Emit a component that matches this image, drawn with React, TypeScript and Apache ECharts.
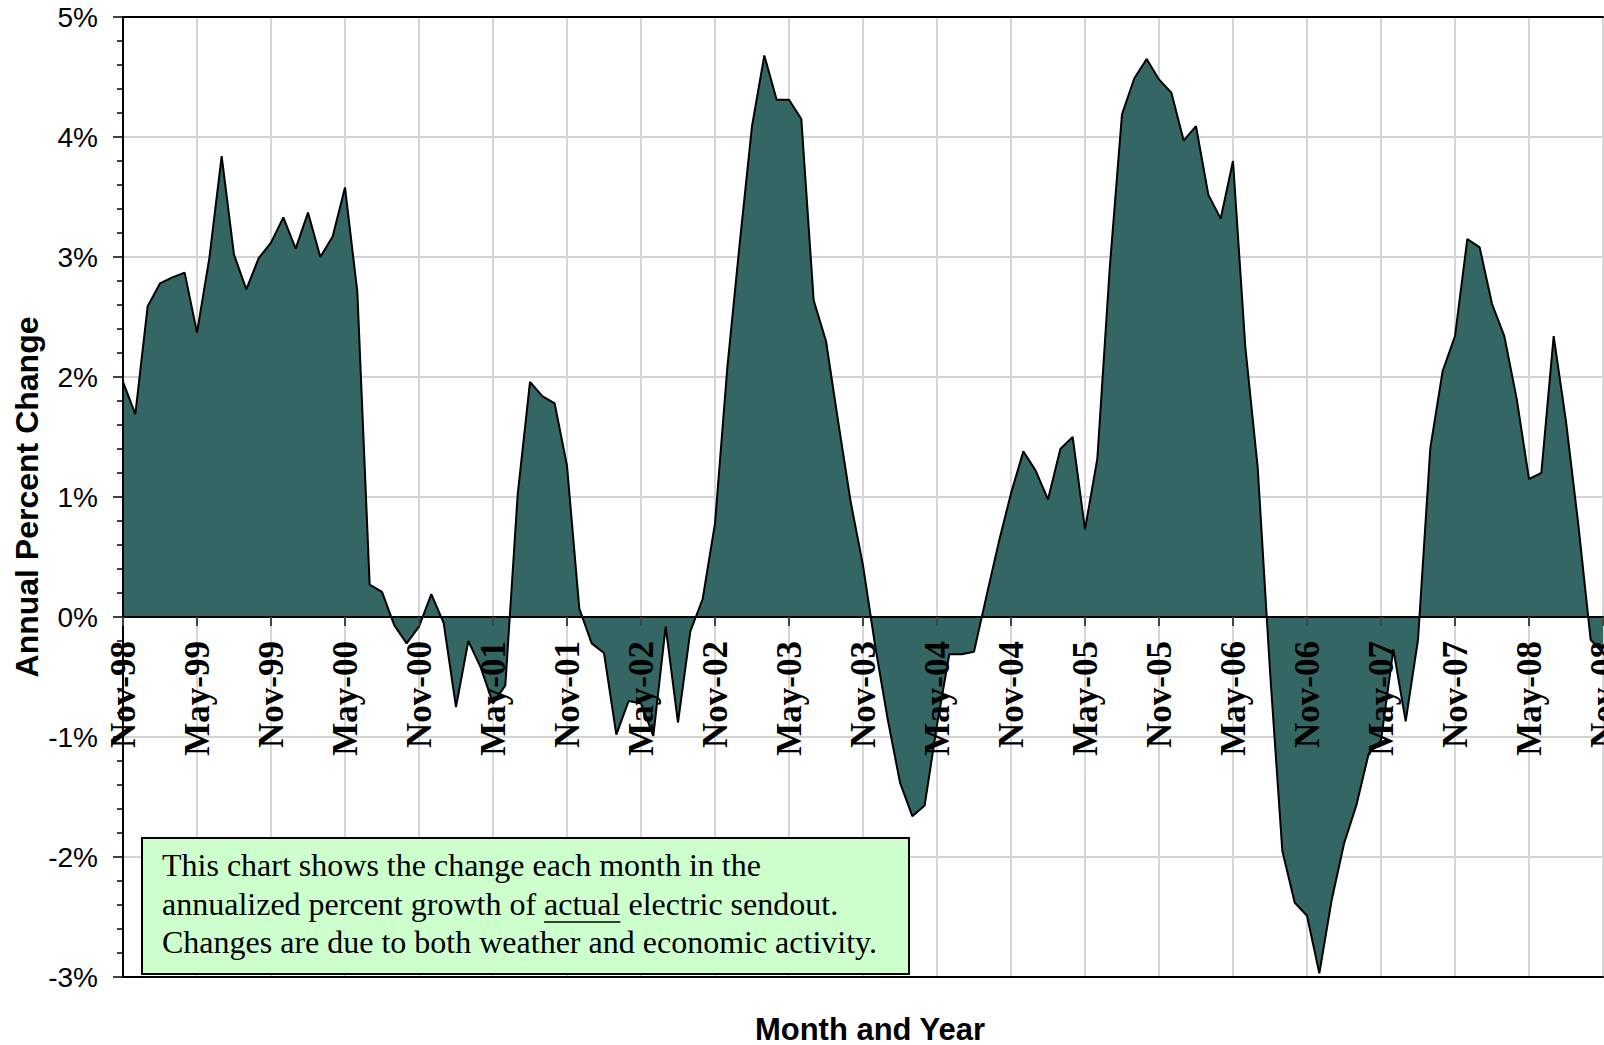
import React, { useEffect, useRef } from 'react';
import * as echarts from 'echarts';

// Month name list used for the category labels (Nov-98 ... Nov-08)
const MONTH_NAMES = ['Jan', 'Feb', 'Mar', 'Apr', 'May', 'Jun', 'Jul', 'Aug', 'Sep', 'Oct', 'Nov', 'Dec'];
const START_YEAR = 1998;
const START_MONTH_INDEX = 10; // Nov

// Annual percent change of actual electric sendout, monthly, Nov-98 .. Nov-08
const GROWTH = [
  1.96, 1.69, 2.59, 2.78, 2.83, 2.87, 2.37, 2.99, 3.84, 3.02, 2.73, 2.99,
  3.12, 3.33, 3.07, 3.37, 3.0, 3.17, 3.58, 2.71, 0.27, 0.21, -0.07, -0.22,
  -0.08, 0.19, -0.05, -0.75, -0.2, -0.42, -0.72, -0.57, 1.02, 1.96, 1.84, 1.78,
  1.26, 0.07, -0.22, -0.3, -0.98, -0.7, -0.72, -0.99, -0.08, -0.88, -0.12, 0.15,
  0.78, 2.08, 3.11, 4.09, 4.68, 4.31, 4.31, 4.15, 2.64, 2.3, 1.62, 0.96,
  0.43, -0.25, -0.85, -1.38, -1.66, -1.57, -0.9, -0.31, -0.31, -0.29, 0.17, 0.62,
  1.03, 1.38, 1.22, 0.98, 1.4, 1.5, 0.73, 1.32, 2.9, 4.19, 4.49, 4.65,
  4.48, 4.37, 3.97, 4.09, 3.52, 3.32, 3.8, 2.25, 1.25, -0.45, -1.95, -2.38,
  -2.49, -2.97, -2.36, -1.89, -1.57, -1.14, -1.03, -0.27, -0.87, -0.19, 1.41, 2.05,
  2.34, 3.15, 3.08, 2.61, 2.34, 1.82, 1.15, 1.2, 2.34, 1.63, 0.77, -0.19,
  -0.3,
];

const CATEGORIES = GROWTH.map((_, i) => {
  const t = START_MONTH_INDEX + i;
  const m = t % 12;
  const y = (START_YEAR + Math.floor(t / 12)) % 100;
  return `${MONTH_NAMES[m]}-${String(y).padStart(2, '0')}`;
});

const Y_MIN = -3;
const Y_MAX = 5;
const Y_STEP = 1;
const LABEL_EVERY = 6; // months between labelled ticks

const NOTE_LINE_1 = 'This chart shows the change each month in the';
const NOTE_LINE_2_PRE = 'annualized percent growth of ';
const NOTE_LINE_2_UNDERLINED = 'actual';
const NOTE_LINE_2_POST = ' electric sendout.';
const NOTE_LINE_3 = 'Changes are due to both weather and economic activity.';

const Y_TITLE = 'Annual Percent Change';
const X_TITLE = 'Month and Year';

const SANS = "'Liberation Sans', Arial, sans-serif";
const SERIF = "'Liberation Serif', 'Times New Roman', serif";

const GRID_TOP = 17;
const GRID_HEIGHT = 960;

function measure(text: string, font: string): number {
  const c = document.createElement('canvas');
  const ctx = c.getContext('2d');
  if (!ctx) return text.length * 14;
  ctx.font = font;
  return ctx.measureText(text).width;
}

export default function App() {
  const ref = useRef<HTMLDivElement>(null);

  useEffect(() => {
    if (!ref.current) return;
    const chart = echarts.init(ref.current, undefined, { renderer: 'svg' });

    const noteFont = `32px ${SERIF}`;
    const noteX = 162;
    const preW = measure(NOTE_LINE_2_PRE, noteFont);
    const ulW = measure(NOTE_LINE_2_UNDERLINED, noteFont);

    const noteText = (text: string, y: number) => ({
      type: 'text',
      left: noteX,
      top: y,
      style: {
        text,
        font: noteFont,
        fill: '#000',
      },
    });

    const mainXAxis = (offset: number) => ({
      type: 'category',
      data: CATEGORIES,
      boundaryGap: false,
      position: 'bottom',
      offset,
      z: 10,
      axisLine: { show: true, onZero: false, lineStyle: { color: '#000', width: 2 } },
      axisTick: { show: true, interval: LABEL_EVERY - 1, length: 9, lineStyle: { color: '#444', width: 2 } },
      axisLabel: {
        show: true,
        interval: LABEL_EVERY - 1,
        rotate: 90,
        margin: 24,
        fontFamily: SERIF,
        fontWeight: 'bold',
        fontSize: 35,
        color: '#000',
      },
      splitLine: { show: false },
      name: X_TITLE,
      nameLocation: 'middle',
      nameGap: 397,
      nameMoveOverlap: false,
      nameTextStyle: {
        fontFamily: SANS,
        fontWeight: 'bold',
        fontSize: 31,
        color: '#000',
        padding: [0, 0, 0, 14],
      },
    });

    const option: any = {
      animation: false,
      backgroundColor: '#fff',
      grid: {
        left: 123,
        top: GRID_TOP,
        width: 1480,
        height: GRID_HEIGHT,
        show: false,
        containLabel: false,
        outerBoundsMode: 'none',
      },
      xAxis: [
        mainXAxis(0),
        {
          type: 'category',
          data: CATEGORIES,
          boundaryGap: false,
          position: 'top',
          z: 0,
          axisLine: { show: true, onZero: false, lineStyle: { color: '#000', width: 2 } },
          axisTick: { show: false },
          axisLabel: { show: false },
          splitLine: { show: true, interval: LABEL_EVERY - 1, lineStyle: { color: '#d6d6d6', width: 2 } },
        },
        {
          type: 'category',
          data: CATEGORIES,
          boundaryGap: false,
          position: 'bottom',
          z: 0,
          axisLine: { show: true, onZero: false, lineStyle: { color: '#000', width: 2 } },
          axisTick: { show: false },
          axisLabel: { show: false },
          splitLine: { show: false },
        },
      ],
      yAxis: [
        {
          type: 'value',
          min: Y_MIN,
          max: Y_MAX,
          interval: Y_STEP,
          position: 'left',
          z: 10,
          axisLine: { show: true, onZero: false, lineStyle: { color: '#000', width: 2 } },
          axisTick: { show: true, length: 10, lineStyle: { color: '#000', width: 1.5 } },
          minorTick: { show: true, splitNumber: 5, length: 6, lineStyle: { color: '#000', width: 1.5 } },
          axisLabel: {
            formatter: '{value}%',
            margin: 25,
            fontFamily: SANS,
            fontSize: 28,
            color: '#000',
          },
          splitLine: { show: false },
          name: Y_TITLE,
          nameLocation: 'middle',
          nameRotate: 90,
          nameGap: 80,
          nameMoveOverlap: false,
          nameTextStyle: { fontFamily: SANS, fontWeight: 'bold', fontSize: 32, color: '#000' },
        },
        {
          type: 'value',
          min: Y_MIN,
          max: Y_MAX,
          interval: Y_STEP,
          position: 'right',
          z: 0,
          axisLine: { show: false, onZero: false },
          axisTick: { show: false },
          axisLabel: { show: false },
          splitLine: { show: true, lineStyle: { color: '#c4c4c4', width: 1.5 } },
        },
      ],
      series: [
        {
          type: 'line',
          xAxisIndex: 0,
          yAxisIndex: 0,
          data: GROWTH,
          showSymbol: false,
          symbol: 'none',
          z: 3,
          lineStyle: { color: '#000', width: 2 },
          areaStyle: { color: '#346664', opacity: 1, origin: 0 },
        },
      ],
      graphic: [
        {
          type: 'rect',
          left: 141,
          top: 837,
          z: 100,
          shape: { width: 767, height: 136 },
          style: { fill: '#ccffcc', stroke: '#000', lineWidth: 2 },
        },
        { ...noteText(NOTE_LINE_1, 849), z: 101 },
        { ...noteText(NOTE_LINE_2_PRE + NOTE_LINE_2_UNDERLINED + NOTE_LINE_2_POST, 888), z: 101 },
        { ...noteText(NOTE_LINE_3, 926), z: 101 },
        {
          type: 'line',
          z: 101,
          shape: { x1: noteX + preW, y1: 922, x2: noteX + preW + ulW, y2: 922 },
          style: { stroke: '#000', lineWidth: 1.5 },
        },
      ],
    };

    chart.setOption(option);

    // Move the labelled category axis up onto the 0% line of the value axis.
    const zeroY = chart.convertToPixel({ yAxisIndex: 0 }, 0) as number;
    const bottomY = GRID_TOP + GRID_HEIGHT;
    const offset = zeroY - bottomY; // negative: move upward
    const xAxes = option.xAxis.slice();
    xAxes[0] = mainXAxis(offset);
    chart.setOption({ xAxis: xAxes });

    return () => chart.dispose();
  }, []);

  return (
    <div
      ref={ref}
      style={{ position: 'absolute', left: 0, top: 0, width: 1604, height: 1045, background: '#fff' }}
    />
  );
}
